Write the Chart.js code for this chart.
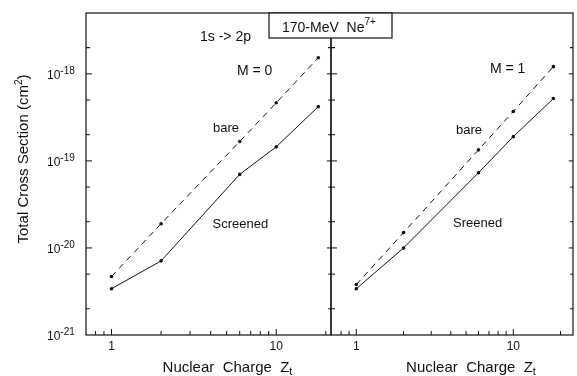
<!DOCTYPE html>
<html>
<head>
<meta charset="utf-8">
<script src="https://cdn.jsdelivr.net/npm/chart.js@4.4.0/dist/chart.umd.min.js"></script>
<style>
  body { margin: 0; background: #fff; }
  #wrap { position: relative; width: 577px; height: 376px; }
  canvas { position: absolute; left: 0; top: 0; }
</style>
</head>
<body>
<div id="wrap">
  <canvas id="left" width="577" height="376"></canvas>
  <canvas id="right" width="577" height="376"></canvas>
</div>
<script>
// target nuclear charge
var zValues = [1, 2, 6, 10, 18];

// M = 0 panel
var bareM0     = [4.7e-21, 1.9e-20, 1.67e-19, 4.65e-19, 1.53e-18];
var screenedM0 = [3.4e-21, 7.1e-21, 7.0e-20, 1.45e-19, 4.2e-19];

// M = 1 panel
var bareM1     = [3.8e-21, 1.5e-20, 1.34e-19, 3.7e-19, 1.21e-18];
var screenedM1 = [3.4e-21, 1.0e-20, 7.3e-20, 1.9e-19, 5.2e-19];

// ticks
var yDecades = [1e-21, 1e-20, 1e-19, 1e-18];
var yMinorMult = [2, 5];
var xLabelTicks = [1, 10];
var xMinorTicks = [0.7, 0.8, 0.9, 2, 3, 4, 5, 6, 7, 8, 9, 20];

var FONT = "'Liberation Sans', Arial, Helvetica, sans-serif";
var INK = '#111';

function pts(ys) {
  var out = [];
  for (let i = 0; i < zValues.length; i++) {
    out.push({ x: zValues[i], y: ys[i] });
  }
  return out;
}

function supText(ctx, parts, x, y) {
  // parts: [text, size, dy]
  for (let p of parts) {
    ctx.font = p[1] + 'px ' + FONT;
    ctx.fillText(p[0], x, y + p[2]);
    x += ctx.measureText(p[0]).width;
  }
  return x;
}

function partsWidth(ctx, parts) {
  var w = 0;
  for (let p of parts) {
    ctx.font = p[1] + 'px ' + FONT;
    w += ctx.measureText(p[0]).width;
  }
  return w;
}

function framePlugin(cfg) {
  return {
    id: 'frame',
    afterDraw(chart) {
      var ctx = chart.ctx;
      var a = chart.chartArea;
      var xs = chart.scales.x, ys = chart.scales.y;
      ctx.save();
      ctx.strokeStyle = INK;
      ctx.fillStyle = INK;
      ctx.lineWidth = 1.2;
      ctx.strokeRect(a.left, a.top, a.right - a.left, a.bottom - a.top);

      // y ticks (inward)
      ctx.lineWidth = 1;
      var yt = [];
      yDecades.forEach(d => {
        yt.push([d, 6]);
        yMinorMult.forEach(m => yt.push([d * m, 4]));
      });
      yt.push([1e-18 * 2, 4]);
      yt.forEach(t => {
        var py = ys.getPixelForValue(t[0]);
        if (py < a.top + 2 || py > a.bottom - 2) return;
        ctx.beginPath();
        ctx.moveTo(a.left, py); ctx.lineTo(a.left + t[1], py);
        ctx.moveTo(a.right, py); ctx.lineTo(a.right - t[1] * 0.7, py);
        ctx.stroke();
      });

      // x ticks (inward from bottom)
      var xt = xLabelTicks.map(v => [v, 6]).concat(xMinorTicks.map(v => [v, 4]));
      xt.forEach(t => {
        var px = xs.getPixelForValue(t[0]);
        if (px < a.left + 2 || px > a.right - 2) return;
        ctx.beginPath();
        ctx.moveTo(px, a.bottom); ctx.lineTo(px, a.bottom - t[1]);
        ctx.stroke();
      });

      // x tick labels
      ctx.font = '12px ' + FONT;
      ctx.textAlign = 'center';
      xLabelTicks.forEach(v => {
        ctx.fillText(String(v), xs.getPixelForValue(v), 350);
      });
      ctx.textAlign = 'left';

      // x title
      var tparts = [['Nuclear  Charge  Z', 15, 0], ['t', 11, 3]];
      var cx = (a.left + a.right) / 2 + 19;
      supText(ctx, tparts, cx - partsWidth(ctx, tparts) / 2, 372);

      if (cfg.yLabels) {
        yDecades.forEach(v => {
          var py = ys.getPixelForValue(v);
          var e = Math.round(Math.log10(v));
          supText(ctx, [['10', 12, 5], [String(e), 10, 0]], 47, py);
        });
        // y title
        ctx.save();
        ctx.translate(28, 159);
        ctx.rotate(-Math.PI / 2);
        var yparts = [['Total Cross Section (cm', 15, 0], ['2', 10, -6], [')', 15, 0]];
        supText(ctx, yparts, -partsWidth(ctx, yparts) / 2, 0);
        ctx.restore();
      }

      cfg.notes.forEach(n => {
        ctx.font = n[1] + 'px ' + FONT;
        ctx.fillText(n[0], n[2], n[3]);
      });

      if (cfg.titleBox) {
        ctx.fillStyle = '#fff';
        ctx.fillRect(269, 13, 123, 25);
        ctx.lineWidth = 1.2;
        ctx.strokeRect(269, 13, 123, 25);
        ctx.fillStyle = INK;
        supText(ctx, [['170-MeV  Ne', 14, 0], ['7+', 10, -7]], 282, 31.5);
      }
      ctx.restore();
    }
  };
}

function makeChart(id, bare, screened, xmin, xmax, pad, cfg) {
  return new Chart(document.getElementById(id), {
    type: 'line',
    data: {
      datasets: [{
        label: 'bare',
        data: pts(bare),
        borderColor: INK,
        borderWidth: 1,
        borderDash: [6, 5],
        pointRadius: 1.8,
        pointBackgroundColor: INK,
        pointBorderWidth: 0,
        tension: 0
      }, {
        label: 'screened',
        data: pts(screened),
        borderColor: INK,
        borderWidth: 1,
        pointRadius: 1.8,
        pointBackgroundColor: INK,
        pointBorderWidth: 0,
        tension: 0
      }]
    },
    options: {
      responsive: false,
      animation: false,
      devicePixelRatio: 1,
      layout: { padding: pad },
      plugins: { legend: { display: false }, tooltip: { enabled: false } },
      scales: {
        x: { type: 'logarithmic', min: xmin, max: xmax, display: false },
        y: { type: 'logarithmic', min: 1e-21, max: 5e-18, display: false }
      }
    },
    plugins: [framePlugin(cfg)]
  });
}

makeChart('left', bareM0, screenedM0, 0.7055, 21.5,
  { left: 86, right: 246, top: 13, bottom: 41 },
  {
    yLabels: true,
    titleBox: false,
    notes: [
      ['1s -> 2p', 14, 200, 41],
      ['M = 0', 14, 237, 75],
      ['bare', 13, 213, 131.5],
      ['Screened', 13, 212.5, 228]
    ]
  });

makeChart('right', bareM1, screenedM1, 0.69, 24,
  { left: 331, right: 1, top: 13, bottom: 41 },
  {
    yLabels: false,
    titleBox: true,
    notes: [
      ['M = 1', 14, 490, 73],
      ['bare', 13, 456, 134],
      ['Sreened', 13, 453, 226.5]
    ]
  });
</script>
</body>
</html>
